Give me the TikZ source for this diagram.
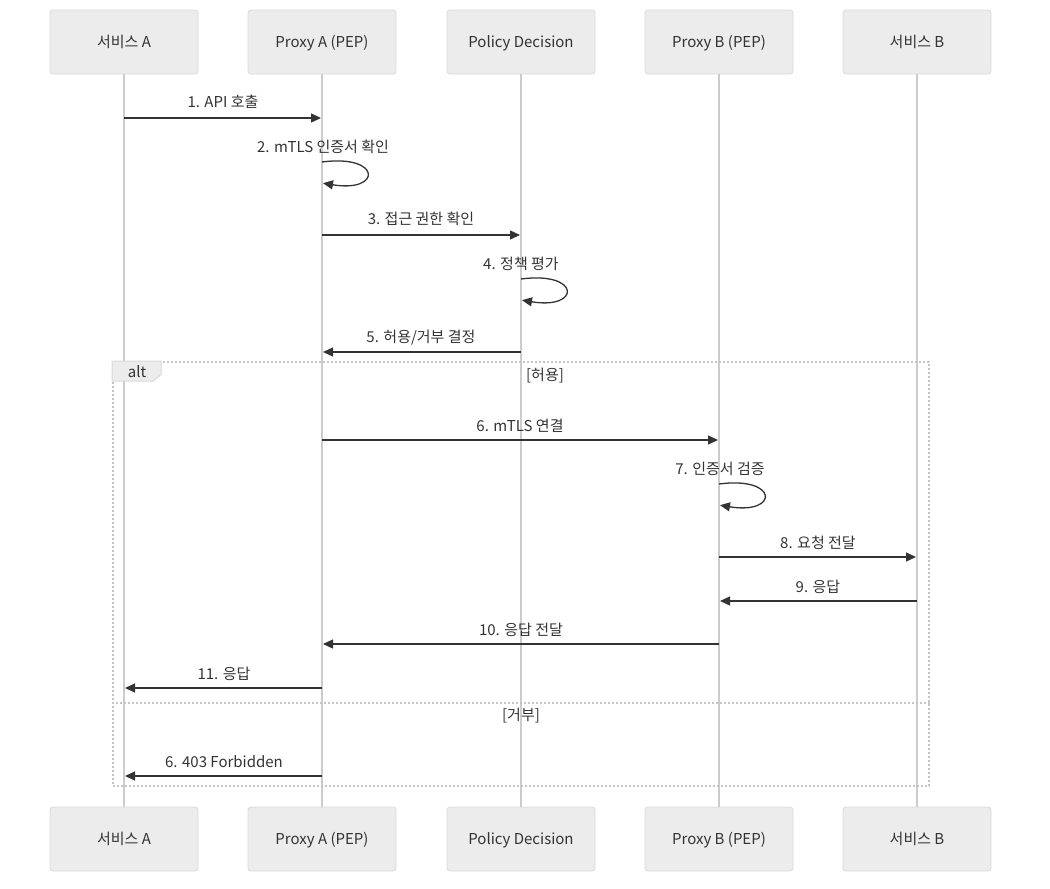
\documentclass[tikz,border=0pt]{standalone}
\usepackage{fontspec}
\setmainfont{Noto Sans CJK KR}
\usetikzlibrary{arrows.meta}
\definecolor{boxfill}{HTML}{ECECEC}
\definecolor{boxline}{HTML}{D9D9D9}
\definecolor{lifeline}{HTML}{CCCCCC}
\definecolor{ink}{HTML}{333333}
\definecolor{framecol}{HTML}{C4C4C4}
\tikzset{
  actor/.style={draw=boxline, fill=boxfill, rounded corners=3pt, minimum width=148pt, minimum height=64pt, text=ink, font=\fontsize{15}{17}\selectfont, line width=0.8pt, inner sep=0pt, text height=12.5pt, text depth=1.5pt},
  msg/.style={draw=ink, line width=1.3pt, shorten >=1pt, -{Triangle[length=10pt,width=9pt]}},
  lbl/.style={text=ink, font=\fontsize{15}{17}\selectfont, inner sep=0pt, text height=12.5pt, text depth=1.5pt},
  life/.style={draw=lifeline, line width=1.8pt},
  altframe/.style={draw=framecol, line width=1.6pt, dash pattern=on 2pt off 2pt, inner sep=0pt},
  tabstyle/.style={draw=boxline, fill=boxfill, line width=1pt}
}
\begin{document}
\begin{tikzpicture}[x=1pt,y=-1pt]
\useasboundingbox (0,0) rectangle (1050,889);
% participants
\node[actor] (tA)  at (124,42) {서비스 A};
\node[actor] (tPA) at (322,42) {Proxy A (PEP)};
\node[actor] (tPD) at (521,42) {Policy Decision};
\node[actor] (tPB) at (719,42) {Proxy B (PEP)};
\node[actor] (tB)  at (917,42) {서비스 B};
\node[actor] (bA)  at (124,839) {서비스 A};
\node[actor] (bPA) at (322,839) {Proxy A (PEP)};
\node[actor] (bPD) at (521,839) {Policy Decision};
\node[actor] (bPB) at (719,839) {Proxy B (PEP)};
\node[actor] (bB)  at (917,839) {서비스 B};
% lifelines
\draw[life] (tA.south) -- (bA.north);
\draw[life] (tPA.south) -- (bPA.north);
\draw[life] (tPD.south) -- (bPD.north);
\draw[life] (tPB.south) -- (bPB.north);
\draw[life] (tB.south) -- (bB.north);
% alt frame
\node[altframe, minimum width=816pt, minimum height=424pt] (alt) at (521,574) {};
\draw[altframe] (alt.west |- 0,703) coordinate (dl) -- (alt.east |- 0,703) coordinate (dr);
\draw[tabstyle] (alt.north west) -- ++(49,0) -- ++(0,13) -- ++(-8,7) -- ++(-41,0) -- cycle;
\node[lbl] (altl) at (137,372) {alt};
\node[lbl] (g1) at (545,375) {[허용]};
\node[lbl] (g2) at (521,715) {[거부]};
% messages
\node[lbl] (l1) at (223,102) {1. API 호출};
\draw[msg] (tA |- 0,118) -- (tPA |- 0,118);
\node[lbl] (l2) at (323,147) {2. mTLS 인증서 확인};
\draw[msg] (tPA |- 0,162) .. controls +(60,-8) and +(60,10) .. (tPA |- 0,183);
\node[lbl] (l3) at (421,219) {3. 접근 권한 확인};
\draw[msg] (tPA |- 0,235) -- (tPD |- 0,235);
\node[lbl] (l4) at (521,264) {4. 정책 평가};
\draw[msg] (tPD |- 0,279) .. controls +(60,-8) and +(60,10) .. (tPD |- 0,300);
\node[lbl] (l5) at (421,337) {5. 허용/거부 결정};
\draw[msg] (tPD |- 0,352) -- (tPA |- 0,352);
\node[lbl] (l6) at (520,426) {6. mTLS 연결};
\draw[msg] (tPA |- 0,440) -- (tPB |- 0,440);
\node[lbl] (l7) at (720,469) {7. 인증서 검증};
\draw[msg] (tPB |- 0,484) .. controls +(60,-8) and +(60,10) .. (tPB |- 0,505);
\node[lbl] (l8) at (818,543) {8. 요청 전달};
\draw[msg] (tPB |- 0,557) -- (tB |- 0,557);
\node[lbl] (l9) at (818,587) {9. 응답};
\draw[msg] (tB |- 0,601) -- (tPB |- 0,601);
\node[lbl] (l10) at (521,630) {10. 응답 전달};
\draw[msg] (tPB |- 0,644) -- (tPA |- 0,644);
\node[lbl] (l11) at (224,674) {11. 응답};
\draw[msg] (tPA |- 0,688) -- (tA |- 0,688);
\node[lbl] (l12) at (224,762) {6. 403 Forbidden};
\draw[msg] (tPA |- 0,776) -- (tA |- 0,776);
\end{tikzpicture}
\end{document}
